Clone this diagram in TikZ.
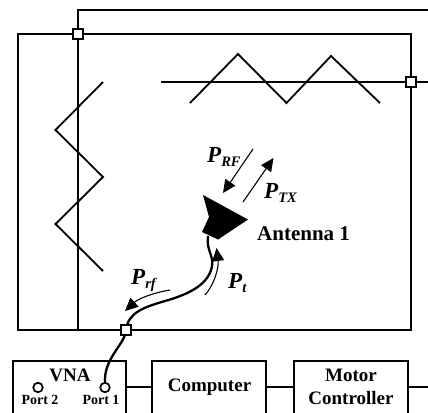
\documentclass[tikz,border=0pt]{standalone}
\usepackage{fontspec}
\setmainfont{Liberation Serif}
\usetikzlibrary{arrows.meta}
\newcommand{\Pw}[1]{\fontsize{23}{23}\selectfont\bfseries\itshape P\raisebox{-4.5pt}{\fontsize{14.5}{14.5}\selectfont #1}}
\tikzset{
  wire/.style={line width=1.8pt,line join=miter,black},
  cable/.style={line width=2.3pt,black},
  joint/.style={draw=black,line width=1.8pt,fill=white,rectangle,minimum size=9.5pt,inner sep=0pt,outer sep=0pt},
  port/.style={draw=black,line width=1.7pt,fill=white,circle,minimum size=9.5pt,inner sep=0pt},
  unit/.style={draw=black,line width=1.8pt,fill=white,rectangle,inner sep=0pt,outer sep=0pt},
  flow/.style={line width=1.1pt,black,-{Triangle[length=13pt,width=12pt]}},
  lab/.style={font=\bfseries,inner sep=0pt,align=center},
}
\begin{document}
\begin{tikzpicture}[x=1pt,y=-1pt]
\useasboundingbox (0,0) rectangle (428,412);
\begin{scope}
\clip (0,0) rectangle (428,412);
% chamber and rails
\draw[wire] (18,34) rectangle (411,330);
\coordinate (topend) at (428,10);
\coordinate (rightend) at (428,82);
\coordinate (feedl) at (161,82);
\coordinate (bus) at (78,330);
\draw[wire] (bus) -- (78,34);
\draw[wire] (78,34) -- (78,10) -- (topend);
\draw[wire] (feedl) -- (rightend);
% zigzags
\draw[wire] (190,103) -- (238,54) -- (286.5,103) -- (331,56) -- (380,103);
\draw[wire] (103,82) -- (55.5,130) -- (103,177) -- (55.5,224) -- (103,271);
\node[joint] (j1) at (78,34) {};
\node[joint] (j2) at (411,82) {};
% units
\node[unit,minimum width=113pt,minimum height=70pt] (vna) at (69.5,396) {};
\node[unit,minimum width=114pt,minimum height=70pt] (comp) at (209,396) {};
\node[unit,minimum width=114pt,minimum height=70pt] (motor) at (351,396) {};
\coordinate (motorend) at (428,387);
\draw[wire] (126,387) -- (152,387);
\draw[wire] (266,387) -- (294,387);
\draw[wire] (408,387) -- (motorend);
\node[lab,font=\fontsize{19}{19}\selectfont\bfseries] at (70,375.5) {VNA};
\node[port] (p2) at (38,387.5) {};
\node[lab,font=\fontsize{14}{14}\selectfont\bfseries] at (40,399.5) {Port 2};
\node[lab,font=\fontsize{14}{14}\selectfont\bfseries] at (101,399.5) {Port 1};
\node[lab,font=\fontsize{19}{19}\selectfont\bfseries] at (209.5,387.5) {Computer};
\node[lab,font=\fontsize{19}{22}\selectfont\bfseries] at (351,386.5) {Motor\\[1pt]Controller};
% antenna
\fill[black] (203,195) -- (248,219.5) -- (218,239.5) -- (202,232) -- (209,217) -- cycle;
\coordinate (feed) at (208,236);
\draw[cable] (feed) .. controls (206,250) and (214,256) .. (212,266) .. controls (209,284) and (190,294) .. (165,301) .. controls (145,307) and (128,312) .. (126,330);
\draw[cable] (126,330) .. controls (125,345) and (103,358) .. (105,384);
\node[joint] (j3) at (126,330) {};
\node[port] (p1) at (105,387.5) {};
% power arrows
\coordinate (rfa) at (253,149);
\coordinate (rfb) at (223,193);
\coordinate (txa) at (243,202);
\coordinate (txb) at (273.5,158);
\draw[flow] (rfa) -- (rfb);
\draw[flow] (txa) -- (txb);
\coordinate (ta) at (205,295);
\coordinate (tb) at (216.5,248);
\draw[flow] (ta) .. controls (214,285) and (219,268) .. (tb);
\coordinate (ra) at (170,290);
\coordinate (rb) at (125,311);
\draw[flow] (ra) .. controls (152,293) and (138,299) .. (rb);
% labels
\node[inner sep=0pt,anchor=base west] (lrf) at (207,162) {\Pw{RF}};
\node[inner sep=0pt,anchor=base west] (ltx) at (264,198) {\Pw{TX}};
\node[inner sep=0pt,anchor=base west] (lt) at (228,288) {\Pw{t}};
\node[inner sep=0pt,anchor=base west] (lr) at (131,284) {\Pw{rf}};
\node[inner sep=0pt,anchor=base west,font=\fontsize{21}{21}\selectfont\bfseries] (ant) at (257,240) {Antenna 1};
\end{scope}
\end{tikzpicture}
\end{document}
